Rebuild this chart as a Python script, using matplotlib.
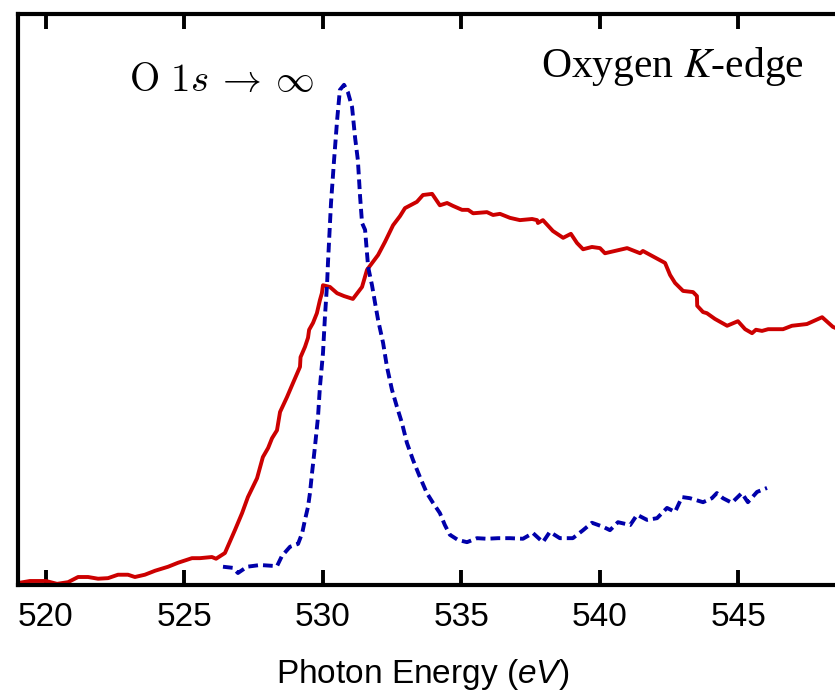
import matplotlib
matplotlib.use("Agg")
import matplotlib.pyplot as plt

plt.rcParams['mathtext.fontset'] = 'custom'
plt.rcParams['mathtext.rm'] = 'Liberation Sans'
plt.rcParams['mathtext.it'] = 'Liberation Sans:italic'

# O K-edge absorption (red, solid)
red_e = [519.07, 519.43, 520.01, 520.41, 520.81, 521.17, 521.53, 521.89, 522.25, 522.61,
         522.97, 523.22, 523.58, 523.95, 524.42, 524.78, 525.28, 525.57, 526.00, 526.15,
         526.47, 526.83, 527.09, 527.30, 527.63, 527.84, 528.03, 528.17, 528.35, 528.46,
         528.71, 528.93, 529.18, 529.20, 529.36, 529.47, 529.51, 529.65, 529.79, 529.90,
         529.97, 530.01, 530.26, 530.52, 530.77, 531.09, 531.42, 531.60, 532.00, 532.25,
         532.54, 532.79, 532.97, 533.40, 533.62, 533.95, 534.23, 534.49, 534.70, 535.03,
         535.25, 535.43, 535.93, 536.15, 536.40, 536.76, 537.12, 537.56, 537.74, 537.77,
         537.95, 538.31, 538.68, 538.96, 539.18, 539.40, 539.72, 540.01, 540.19, 540.99,
         541.46, 541.56, 542.36, 542.54, 542.72, 543.01, 543.37, 543.51, 543.52, 543.73,
         543.87, 544.16, 544.60, 544.99, 545.25, 545.50, 545.64, 545.86, 546.08, 546.62,
         546.94, 547.48, 548.03, 548.42, 548.67]
red_y = [0.004, 0.007, 0.007, 0.002, 0.005, 0.014, 0.014, 0.011, 0.012, 0.018,
         0.018, 0.014, 0.018, 0.025, 0.032, 0.039, 0.047, 0.047, 0.049, 0.046,
         0.056, 0.096, 0.126, 0.154, 0.187, 0.224, 0.240, 0.257, 0.271, 0.303,
         0.329, 0.354, 0.382, 0.399, 0.417, 0.433, 0.447, 0.459, 0.476, 0.499,
         0.511, 0.525, 0.522, 0.511, 0.506, 0.501, 0.522, 0.552, 0.578, 0.601,
         0.630, 0.646, 0.660, 0.671, 0.683, 0.685, 0.665, 0.669, 0.664, 0.657,
         0.657, 0.651, 0.653, 0.648, 0.650, 0.643, 0.639, 0.641, 0.639, 0.634,
         0.639, 0.620, 0.608, 0.615, 0.599, 0.588, 0.592, 0.590, 0.581, 0.590,
         0.581, 0.585, 0.564, 0.543, 0.529, 0.515, 0.513, 0.506, 0.489, 0.478,
         0.476, 0.466, 0.454, 0.462, 0.448, 0.441, 0.447, 0.445, 0.448, 0.448,
         0.454, 0.457, 0.469, 0.452, 0.447]

# O 1s -> continuum (blue, dashed)
blue_e = [526.40, 526.76, 526.94, 527.27, 527.74, 528.35, 528.53, 528.82, 529.11, 529.26,
          529.36, 529.47, 529.54, 529.61, 529.72, 529.83, 529.90, 530.01, 530.08, 530.16,
          530.19, 530.30, 530.41, 530.52, 530.62, 530.77, 530.91, 531.06, 531.17, 531.27,
          531.35, 531.42, 531.53, 531.64, 531.78, 531.89, 532.00, 532.18, 532.32, 532.50,
          532.68, 532.86, 533.04, 533.26, 533.51, 533.76, 533.98, 534.23, 534.41, 534.59,
          534.88, 535.21, 535.57, 535.93, 536.33, 536.76, 537.23, 537.59, 537.95, 538.20,
          538.56, 539.03, 539.40, 539.72, 540.12, 540.37, 540.66, 541.10, 541.35, 541.71,
          542.07, 542.43, 542.72, 542.97, 543.26, 543.73, 544.05, 544.23, 544.45, 544.77,
          545.13, 545.35, 545.68, 546.04]
blue_y = [0.032, 0.030, 0.021, 0.032, 0.035, 0.033, 0.051, 0.067, 0.072, 0.091,
          0.114, 0.137, 0.161, 0.194, 0.242, 0.294, 0.347, 0.406, 0.469, 0.529,
          0.564, 0.669, 0.744, 0.814, 0.867, 0.876, 0.863, 0.837, 0.783, 0.744,
          0.680, 0.634, 0.622, 0.557, 0.525, 0.494, 0.464, 0.424, 0.382, 0.342,
          0.312, 0.284, 0.249, 0.219, 0.189, 0.161, 0.144, 0.126, 0.105, 0.088,
          0.079, 0.075, 0.082, 0.081, 0.082, 0.082, 0.081, 0.091, 0.075, 0.093,
          0.082, 0.082, 0.096, 0.109, 0.102, 0.096, 0.110, 0.105, 0.123, 0.114,
          0.117, 0.135, 0.128, 0.154, 0.152, 0.145, 0.152, 0.161, 0.152, 0.144,
          0.161, 0.145, 0.163, 0.170]

xticks = [520, 525, 530, 535, 540, 545]

fig = plt.figure(figsize=(8.35, 6.91), dpi=100)
# axes run past the right edge of the figure (cropped like the original)
ax = fig.add_axes([18 / 835, 106 / 691, 831 / 835, 571 / 691])

ax.plot(red_e, red_y, color='#cc0000', lw=2.8, solid_joinstyle='round')
ax.plot(blue_e, blue_y, color='#0000aa', lw=2.8, dashes=(2.5, 1.3))

ax.set_xlim(519, 549)
ax.set_ylim(0, 1)
ax.set_xticks(xticks)
ax.set_yticks([])
ax.tick_params(axis='x', direction='in', length=11, width=2.8, top=True,
               labelsize=24, pad=12)
for lab in ax.get_xticklabels():
    lab.set_fontfamily('Liberation Sans')
for s in ax.spines.values():
    s.set_linewidth(3)
ax.spines['right'].set_visible(False)

fig.text(423 / 835, 8 / 691, r"Photon Energy ($eV$)", ha='center', va='baseline',
         fontsize=24, family='Liberation Sans')

ax.text(0.133, 0.865, r"$\mathrm{O}\ 1s\:\rightarrow\:\infty$", transform=ax.transAxes,
        fontsize=28, math_fontfamily='cm', va='baseline', ha='left')
fig.text(804 / 835, 1 - 77 / 691, r"Oxygen $K$-edge", ha='right', va='baseline',
         fontsize=30, family='Liberation Serif', math_fontfamily='stix')

plt.savefig("out.png", dpi=100)
